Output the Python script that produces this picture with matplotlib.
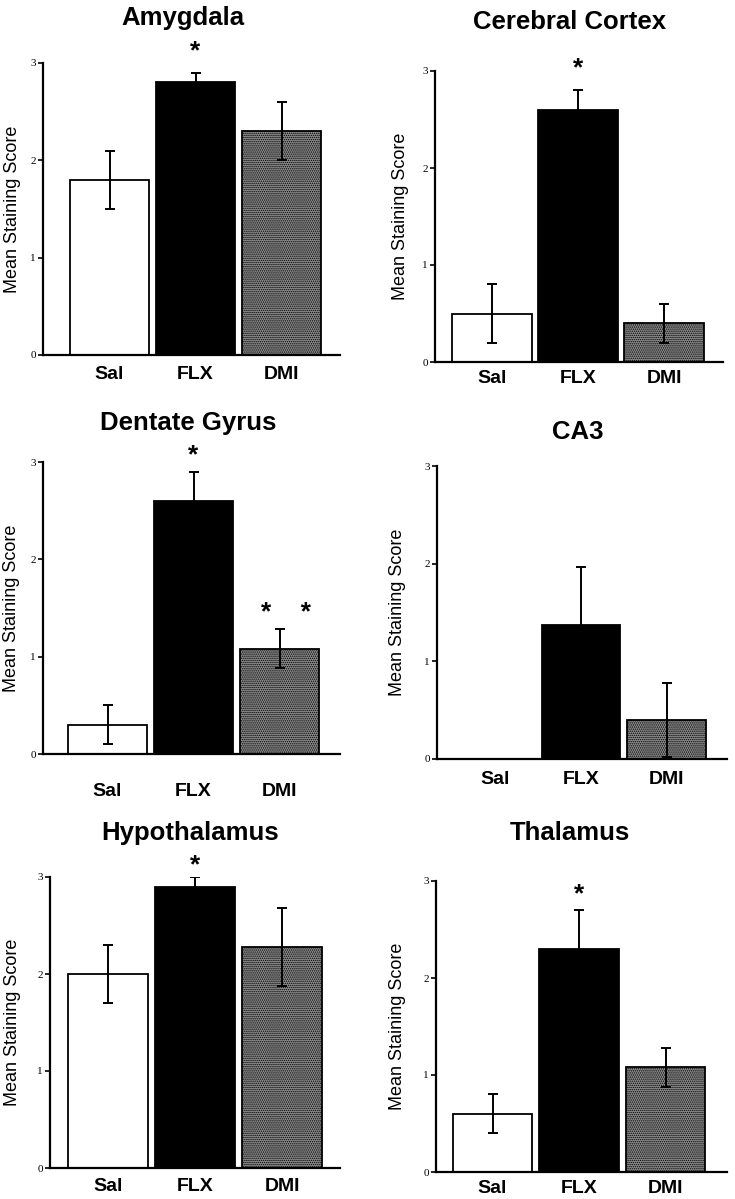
import numpy as np
import matplotlib
matplotlib.use('Agg')
import matplotlib.pyplot as plt

plt.rcParams['font.family'] = ['Liberation Sans', 'DejaVu Sans']
plt.rcParams['hatch.linewidth'] = 0.7

# data
regions = ['Amygdala', 'Cerebral Cortex', 'Dentate Gyrus', 'CA3',
           'Hypothalamus', 'Thalamus']
groups = ['Sal', 'FLX', 'DMI']
means = [[1.8, 2.8, 2.3],
         [0.5, 2.6, 0.4],
         [0.3, 2.6, 1.08],
         [0.0, 1.37, 0.4],
         [2.0, 2.9, 2.28],
         [0.6, 2.3, 1.08]]
sems = [[0.3, 0.1, 0.3],
        [0.3, 0.2, 0.2],
        [0.2, 0.3, 0.2],
        [np.nan, 0.6, 0.38],
        [0.3, 0.1, 0.4],
        [0.2, 0.4, 0.2]]
signif = [['', '*', ''],
          ['', '*', ''],
          ['', '*', '*    *'],
          ['', '', ''],
          ['', '*', ''],
          ['', '*', '']]
yticks = [0, 1, 2, 3]

# layout in pixels: axis left, axis right, y of 0, y of 3, bar spacing, first bar centre
W, H = 735, 1199
panels = [(43, 340, 355, 63, 86, 109.5),
          (435, 723, 362, 71, 86, 492),
          (43, 340, 754, 462, 86, 107.5),
          (437, 727, 759, 466, 85.5, 495.5),
          (50, 340, 1168, 877, 87, 108),
          (436, 727, 1172, 881, 86.5, 492.5)]
title_xy = [(183, 18), (570, 22), (188, 423), (578, 432), (190, 833), (570, 833)]
ylab_x = [13, 400, 12, 398, 13, 398]
xlab_pad = [8, 6, 21, 9, 7, 6]
star_off = [0.22, 0.23, 0.17, 0, 0.12, 0.16]

fig = plt.figure(figsize=(W / 100, H / 100), dpi=100)
colors = ['white', 'black', '#8e8e8e']
hatches = [None, None, '........']

for i, name in enumerate(regions):
    xl, xr, y0, y3, sp, c0 = panels[i]
    ax = fig.add_axes([xl / W, 1 - y0 / H, (xr - xl) / W, (y0 - y3) / H])
    x = np.arange(3)
    for j in range(3):
        if means[i][j] > 0:
            ax.bar(x[j], means[i][j], width=0.92, color=colors[j],
                   edgecolor='black', linewidth=1.3, hatch=hatches[j], zorder=2)
    ax.errorbar(x, means[i], yerr=sems[i], fmt='none', ecolor='black',
                elinewidth=1.4, capsize=3.3, capthick=1.4, zorder=3)
    for j in range(3):
        if signif[i][j]:
            top = means[i][j] + sems[i][j]
            ax.text(x[j] + (0.08 if len(signif[i][j]) > 1 else 0),
                    top + star_off[i], signif[i][j], ha='center', va='center',
                    fontsize=19, fontweight='bold', clip_on=False)
    ax.set_xlim(-(c0 - xl) / sp, (xr - c0) / sp)
    ax.set_ylim(0, 3)
    ax.set_yticks(yticks)
    ax.set_yticklabels([str(t) for t in yticks], family='Liberation Serif',
                       fontsize=8)
    ax.set_xticks(x)
    ax.set_xticklabels(groups, fontsize=14, fontweight='bold')
    ax.tick_params(axis='x', length=0, pad=xlab_pad[i])
    ax.tick_params(axis='y', length=3.5, width=1.2, pad=1.5, direction='out')
    for s in ['top', 'right']:
        ax.spines[s].set_visible(False)
    for s in ['left', 'bottom']:
        ax.spines[s].set_linewidth(1.6)
    fig.text(title_xy[i][0] / W, 1 - title_xy[i][1] / H, name, ha='center',
             va='center', fontsize=18.5, fontweight='bold')
    fig.text(ylab_x[i] / W, 1 - ((y0 + y3) / 2) / H, 'Mean Staining Score',
             rotation=90, ha='center', va='center', fontsize=13)

fig.savefig('out.png', dpi=100)
